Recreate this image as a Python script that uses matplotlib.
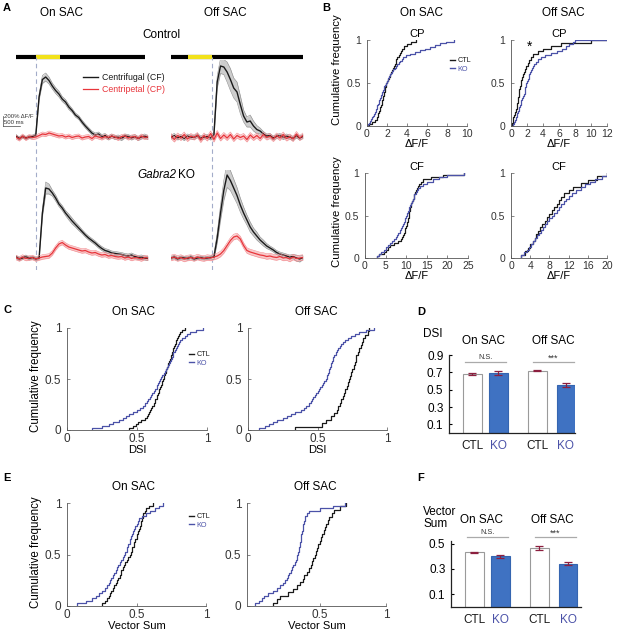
import numpy as np
import matplotlib
matplotlib.use('Agg')
import matplotlib.pyplot as plt
from matplotlib.lines import Line2D

plt.rcParams['font.family'] = ['Liberation Sans', 'DejaVu Sans']

W, H = 617, 638
fig = plt.figure(figsize=(W / 100, H / 100), dpi=100)


def box(x0, y0, x1, y1):
    # pixel box (from top-left) -> figure fraction rect
    return [x0 / W, 1 - y1 / H, (x1 - x0) / W, (y1 - y0) / H]


def fx(x):
    return x / W


def fy(y):
    return 1 - y / H


BLACK = '#1a1a1a'
BLUE = '#4b52a8'
RED = '#e8353b'
BARBLUE = '#3f72c2'
ERRRED = '#8c1f3f'

# ---------------- data: panel A traces (dF/F %, 0.1 s steps) ----------------
t = np.linspace(0, 4.0, 41)

on_ctl_cf = [20, -30, 10, -20, 0, 10, 40, 800, 1150, 1200, 1130, 1020, 930, 860, 760, 700,
             600, 530, 440, 390, 300, 220, 150, 80, 40, 60, 10, 30, -20, 20, -10, 0, -30, 20,
             10, -20, 10, -30, 0, 20, -10]
on_ctl_cf_sem = [30, 30, 30, 30, 30, 30, 30, 60, 80, 80, 70, 60, 60, 60, 50, 50, 50, 40, 40, 40,
                 40, 40, 40, 40, 40, 40, 40, 40, 40, 40, 40, 40, 40, 40, 40, 40, 40, 40, 40, 40, 40]
on_ctl_cp = [0, -40, 20, -30, 10, -10, 0, 30, 60, 50, 80, 60, 40, 20, 30, 0, 20, -10, 10, 20,
             -20, 0, 10, -30, 20, 0, -20, 10, -10, 20, 0, -30, 10, 20, -20, 0, 10, -30, 20, -10, 0]
on_ctl_cp_sem = 40

off_ctl_cf = [0, 30, -20, 10, -30, 20, 0, -10, 30, -20, 0, 10, -20, 40, 1100, 1420, 1400, 1300,
              1150, 980, 900, 650, 420, 300, 320, 220, 150, 120, 60, 20, 30, -20, 10, 30, -10, 20,
              0, -30, 20, -20, 10]
off_ctl_cf_sem = [40, 40, 40, 40, 40, 40, 40, 40, 40, 40, 40, 40, 40, 60, 120, 150, 150, 200, 220,
                  200, 200, 180, 120, 100, 120, 100, 80, 60, 50, 40, 40, 40, 40, 40, 40, 40, 40, 40,
                  40, 40, 40]
off_ctl_cp = [20, -50, 30, -20, 50, -40, 20, -10, 40, -60, 30, -30, 70, -50, 80, -30, 40, -20, 50,
              -40, 30, -10, 20, -50, 40, -20, 30, -30, 50, -10, 20, -40, 30, -20, 50, -30, 10, -40,
              60, -20, 30]
off_ctl_cp_sem = 50

on_ko_cf = [20, -20, 0, 30, -10, 10, -20, 0, 900, 1400, 1380, 1300, 1200, 1080, 1000, 900, 820,
            740, 670, 600, 530, 460, 400, 350, 300, 240, 190, 150, 130, 100, 90, 80, 70, 50, 40,
            60, 30, 10, 20, 0, -10]
on_ko_cf_sem = [30, 30, 30, 30, 30, 30, 30, 30, 80, 120, 100, 60, 60, 50, 50, 50, 60, 60, 50, 50,
                40, 40, 40, 40, 40, 40, 40, 40, 40, 40, 40, 40, 40, 40, 40, 40, 40, 40, 40, 40, 40]
on_ko_cp = [10, -20, 20, -10, 0, 10, -20, 0, 20, 30, 40, 100, 200, 280, 310, 260, 220, 200, 180,
            160, 140, 150, 120, 100, 110, 80, 60, 70, 40, 50, 30, 20, 30, 0, 20, -10, 10, 0, -20,
            10, 0]
on_ko_cp_sem = 45

off_ko_cf = [0, 20, -20, 10, 0, -10, 20, -20, 0, 10, -10, 0, 10, 20, 400, 900, 1350, 1660, 1550,
             1400, 1250, 1060, 900, 760, 620, 520, 440, 360, 300, 240, 200, 160, 110, 80, 60, 40,
             20, 30, 0, -20, 10]
off_ko_cf_sem = [30, 30, 30, 30, 30, 30, 30, 30, 30, 30, 30, 30, 30, 50, 100, 150, 200, 250, 200,
                 180, 160, 140, 120, 100, 100, 80, 80, 60, 60, 50, 40, 40, 40, 40, 40, 40, 40, 40,
                 60, 60, 40]
off_ko_cp = [0, 20, -10, 10, -20, 0, 10, -10, 20, 0, -10, 10, 0, 20, 40, 80, 150, 250, 350, 420,
             440, 380, 250, 150, 120, 100, 80, 60, 50, 30, 40, 20, 10, 30, 0, 10, -20, 20, -10, 0, 10]
off_ko_cp_sem = 55

# stimulus (light on) windows and bar length, seconds
stim_on_col = [(0.6, 1.33), (0.52, 1.24)]
stim_bar_end = [3.9, 4.0]
onset_line = [0.6, 1.24]
scale_dff = 200
scale_s = 0.5

# ---------------- data: panel B (dF/F samples) ----------------
b_on_cp_ctl = [0.2, 0.5, 0.8, 1.0, 1.05, 1.1, 1.2, 1.25, 1.3, 1.35, 1.45, 1.5, 1.55, 1.6, 1.65,
               1.7, 1.75, 1.8, 1.85, 1.9, 2.0, 2.1, 2.2, 2.3, 2.4, 2.5, 2.6, 2.7, 2.75, 2.85, 2.9,
               3.0, 3.15, 3.25, 3.35, 3.5, 3.7, 4.0, 4.4, 4.9]
b_on_cp_ko = [0.1, 0.2, 0.3, 0.4, 0.5, 0.6, 0.7, 0.8, 0.85, 0.9, 0.95, 1.0, 1.1, 1.15, 1.2, 1.3,
              1.35, 1.4, 1.45, 1.5, 1.6, 1.65, 1.7, 1.8, 1.9, 2.0, 2.05, 2.1, 2.2, 2.3, 2.4, 2.5,
              2.6, 2.8, 2.9, 3.0, 3.2, 3.3, 3.45, 3.6, 3.9, 4.3, 4.8, 5.3, 5.8, 6.3, 6.8, 7.3, 7.9, 8.7]
b_off_cp_ctl = [0.1, 0.2, 0.3, 0.4, 0.5, 0.6, 0.7, 0.8, 0.85, 0.9, 0.95, 1.0, 1.05, 1.1, 1.2, 1.3,
                1.4, 1.5, 1.6, 1.8, 1.9, 2.1, 2.3, 2.5, 2.8, 3.4, 4.0, 5.0, 6.2, 10.0]
b_off_cp_ko = [0.2, 0.4, 0.5, 0.6, 0.7, 0.8, 0.9, 1.0, 1.05, 1.1, 1.2, 1.3, 1.4, 1.5, 1.6, 1.7,
               1.75, 1.8, 1.85, 1.9, 2.0, 2.1, 2.2, 2.3, 2.4, 2.5, 2.6, 2.7, 2.9, 3.1, 3.4, 3.8,
               4.3, 5.0, 5.8, 6.4, 6.9, 7.3, 7.7, 8.0]
b_on_cf_ctl = [3.0, 3.5, 4.5, 5.0, 5.5, 6.0, 7.0, 8.0, 8.7, 9.0, 9.2, 9.4, 9.6, 9.8, 10.0, 10.1,
               10.2, 10.4, 10.5, 10.6, 10.7, 10.8, 10.9, 11.0, 11.1, 11.2, 11.4, 11.6, 11.8, 12.0,
               12.2, 12.4, 12.6, 12.8, 13.0, 13.5, 14.0, 16.0, 19.0, 24.0]
b_on_cf_ko = [3.0, 3.5, 4.0, 4.5, 5.0, 5.5, 6.0, 6.5, 7.0, 7.5, 7.8, 8.1, 8.4, 8.7, 9.0, 9.2, 9.4,
              9.6, 9.8, 10.0, 10.2, 10.4, 10.6, 10.8, 11.0, 11.2, 11.4, 11.6, 11.8, 12.0, 12.3,
              12.6, 12.9, 13.3, 14.0, 15.0, 16.5, 18.0, 20.0, 24.0]
b_off_cf_ctl = [2.0, 3.0, 3.5, 4.0, 4.5, 5.0, 5.3, 5.6, 6.0, 6.5, 7.0, 7.5, 8.0, 8.5, 9.0, 9.5,
                10.0, 10.5, 11.0, 12.0, 13.0, 14.5, 16.0, 18.0, 20.0]
b_off_cf_ko = [2.0, 2.8, 3.3, 3.8, 4.2, 4.6, 5.0, 5.4, 5.8, 6.2, 6.6, 7.0, 7.5, 8.0, 8.5, 9.0,
               9.5, 10.0, 10.5, 11.0, 11.5, 12.0, 12.7, 13.5, 14.5, 15.5, 16.5, 17.5, 19.0, 20.0]

# ---------------- data: panel C (DSI samples) ----------------
c_on_ctl = [0.44, 0.47, 0.49, 0.51, 0.53, 0.56, 0.57, 0.58, 0.585, 0.59, 0.60, 0.61, 0.62, 0.625,
            0.63, 0.64, 0.645, 0.65, 0.655, 0.66, 0.665, 0.67, 0.675, 0.68, 0.685, 0.69, 0.695,
            0.70, 0.705, 0.71, 0.715, 0.72, 0.725, 0.73, 0.735, 0.74, 0.745, 0.75, 0.755, 0.76,
            0.765, 0.77, 0.775, 0.78, 0.785, 0.79, 0.80, 0.81, 0.82, 0.84]
c_on_ko = [0.18, 0.25, 0.30, 0.33, 0.37, 0.40, 0.42, 0.44, 0.47, 0.50, 0.52, 0.54, 0.56, 0.57,
           0.58, 0.59, 0.60, 0.61, 0.62, 0.63, 0.64, 0.645, 0.65, 0.66, 0.665, 0.67, 0.68, 0.69,
           0.70, 0.71, 0.715, 0.72, 0.73, 0.735, 0.74, 0.75, 0.755, 0.76, 0.77, 0.78, 0.785, 0.79,
           0.80, 0.81, 0.82, 0.84, 0.86, 0.88, 0.92, 0.97]
c_off_ctl = [0.34, 0.53, 0.56, 0.60, 0.62, 0.64, 0.65, 0.66, 0.67, 0.68, 0.69, 0.70, 0.71, 0.72,
             0.73, 0.735, 0.74, 0.75, 0.76, 0.77, 0.775, 0.78, 0.79, 0.80, 0.81, 0.82, 0.83, 0.84,
             0.86, 0.87]
c_off_ko = [0.08, 0.12, 0.15, 0.18, 0.21, 0.25, 0.28, 0.31, 0.34, 0.38, 0.40, 0.42, 0.44, 0.45,
            0.46, 0.47, 0.48, 0.49, 0.50, 0.51, 0.52, 0.53, 0.54, 0.55, 0.56, 0.565, 0.57, 0.575,
            0.58, 0.585, 0.59, 0.595, 0.60, 0.605, 0.61, 0.615, 0.62, 0.63, 0.64, 0.65, 0.66, 0.67,
            0.68, 0.70, 0.72, 0.74, 0.77, 0.80, 0.85, 0.91]

# ---------------- data: panel E (vector sum samples) ----------------
e_on_ctl = [0.25, 0.27, 0.29, 0.30, 0.31, 0.32, 0.33, 0.34, 0.35, 0.36, 0.37, 0.38, 0.385, 0.39,
            0.40, 0.41, 0.42, 0.43, 0.44, 0.45, 0.46, 0.465, 0.47, 0.48, 0.485, 0.49, 0.50, 0.505,
            0.51, 0.52, 0.525, 0.53, 0.535, 0.54, 0.545, 0.55, 0.56, 0.57, 0.59, 0.62]
e_on_ko = [0.07, 0.14, 0.18, 0.21, 0.23, 0.25, 0.27, 0.29, 0.30, 0.31, 0.32, 0.33, 0.34, 0.35,
           0.36, 0.37, 0.38, 0.39, 0.40, 0.41, 0.42, 0.43, 0.435, 0.44, 0.45, 0.455, 0.46, 0.47,
           0.475, 0.48, 0.49, 0.50, 0.51, 0.52, 0.54, 0.57, 0.60, 0.63, 0.66, 0.69]
e_off_ctl = [0.15, 0.18, 0.20, 0.26, 0.30, 0.33, 0.35, 0.37, 0.38, 0.40, 0.42, 0.43, 0.44, 0.45,
             0.46, 0.47, 0.48, 0.49, 0.50, 0.51, 0.52, 0.53, 0.54, 0.55, 0.56, 0.57, 0.59, 0.61,
             0.65, 0.70]
e_off_ko = [0.01, 0.04, 0.06, 0.08, 0.11, 0.15, 0.18, 0.20, 0.22, 0.24, 0.25, 0.26, 0.27, 0.28,
            0.29, 0.30, 0.31, 0.32, 0.325, 0.33, 0.335, 0.34, 0.345, 0.35, 0.35, 0.355, 0.36, 0.36,
            0.365, 0.37, 0.37, 0.375, 0.38, 0.385, 0.39, 0.40, 0.42, 0.50, 0.60, 0.69]

# ---------------- data: panels D and F (mean +- sem) ----------------
bar_labels = ['CTL', 'KO', 'CTL', 'KO']
dsi_mean = [0.68, 0.69, 0.72, 0.555]
dsi_sem = [0.01, 0.02, 0.01, 0.02]
vs_mean = [0.43, 0.40, 0.465, 0.34]
vs_sem = [0.006, 0.01, 0.018, 0.012]


# ======================= panel A =======================
def trace_axes(rect, ylim, cf, cf_sem, cp, cp_sem):
    ax = fig.add_axes(rect)
    ax.patch.set_alpha(0)
    cf = np.array(cf, float)
    cp = np.array(cp, float)
    lo, hi = cf - np.array(cf_sem), cf + np.array(cf_sem)
    ax.fill_between(t, lo, hi, color='#cdcdcd', lw=0)
    ax.plot(t, lo, color='#8a8a8a', lw=0.4)
    ax.plot(t, hi, color='#8a8a8a', lw=0.4)
    ax.plot(t, cf, color=BLACK, lw=1.0, label='Centrifugal (CF)')
    ax.fill_between(t, cp - cp_sem, cp + cp_sem, color='#f8c2c4', lw=0, alpha=0.9)
    ax.plot(t, cp - cp_sem, color='#f28a8e', lw=0.4)
    ax.plot(t, cp + cp_sem, color='#f28a8e', lw=0.4)
    ax.plot(t, cp, color=RED, lw=0.9, label='Centripetal (CP)')
    ax.set_xlim(0, 4.0)
    ax.set_ylim(ylim)
    ax.axis('off')
    return ax


for i, x0 in enumerate([16, 171]):
    col = fig.add_axes(box(x0, 50, x0 + 132, 270))
    col.set_xlim(0, 4.0)
    col.set_ylim(0, 1)
    col.axis('off')
    col.plot([0, stim_bar_end[i]], [0.968, 0.968], color='k', lw=3.0, solid_capstyle='butt')
    col.plot(stim_on_col[i], [0.968, 0.968], color='#f2e21b', lw=3.0, solid_capstyle='butt')
    col.plot([onset_line[i]] * 2, [0.0, 0.968], color='#a3acc9', lw=0.8, dashes=(4, 3))

ax_a1 = trace_axes(box(16, 60, 148, 145), (-160, 1540), on_ctl_cf, on_ctl_cf_sem, on_ctl_cp, on_ctl_cp_sem)
trace_axes(box(171, 60, 303, 145), (-160, 1540), off_ctl_cf, off_ctl_cf_sem, off_ctl_cp, off_ctl_cp_sem)
trace_axes(box(16, 170, 148, 268), (-200, 1760), on_ko_cf, on_ko_cf_sem, on_ko_cp, on_ko_cp_sem)
trace_axes(box(171, 170, 303, 268), (-200, 1760), off_ko_cf, off_ko_cf_sem, off_ko_cp, off_ko_cp_sem)

# scale bar
ax_a1.plot([-0.38, -0.38], [220, 220 + scale_dff], color='#444', lw=0.5, clip_on=False)
ax_a1.plot([-0.38, -0.38 + scale_s], [220, 220], color='#444', lw=0.5, clip_on=False)
fig.text(fx(4.5), fy(116), '200% \u0394F/F', fontsize=4.3, color='#333', va='center')
fig.text(fx(4.5), fy(123), '500 ms', fontsize=4.3, color='#333', va='center')

ax_a1.legend(loc='upper left', bbox_to_anchor=(fx(83), fy(73)), bbox_transform=fig.transFigure,
             frameon=False, fontsize=6.3, handlelength=1.7, handletextpad=0.5, labelspacing=0.35,
             labelcolor=[BLACK, RED], borderpad=0, borderaxespad=0)

fig.text(fx(3), fy(8), 'A', fontsize=8, fontweight='bold', va='center')
fig.text(fx(62), fy(13), 'On SAC', fontsize=8.5, ha='center', va='center')
fig.text(fx(225), fy(13), 'Off SAC', fontsize=8.5, ha='center', va='center')
fig.text(fx(161), fy(35), 'Control', fontsize=8.5, ha='center', va='center')
fig.text(fx(176), fy(175), 'Gabra2', fontsize=8.5, ha='right', va='center', style='italic')
fig.text(fx(178), fy(175), 'KO', fontsize=8.5, ha='left', va='center')


# ======================= CDF panels =======================
def ecdf(ax, vals, color, extend=None):
    v = np.sort(np.asarray(vals, float))
    n = len(v)
    xs = np.concatenate([[v[0]], v])
    ys = np.concatenate([[0.0], np.arange(1, n + 1) / n])
    if extend is not None:
        xs = np.append(xs, extend)
        ys = np.append(ys, 1.0)
    ax.step(xs, ys, where='post', color=color, lw=0.9)


def cdf_axes(rect, xlim, xticks, xticklabels, ctl, ko, title=None, xlabel=None,
             extend=None, xfs=8):
    ax = fig.add_axes(rect)
    ecdf(ax, ctl, BLACK, extend)
    ecdf(ax, ko, BLUE, extend)
    ax.set_xlim(xlim)
    ax.set_ylim(0, 1)
    ax.set_xticks(xticks)
    ax.set_xticklabels(xticklabels)
    ax.set_yticks([0, 0.5, 1])
    ax.set_yticklabels(['0', '0.5', '1'])
    for s in ['top', 'right']:
        ax.spines[s].set_visible(False)
    for s in ['left', 'bottom']:
        ax.spines[s].set_linewidth(0.6)
        ax.spines[s].set_color('#555')
    ax.tick_params(direction='in', length=2, width=0.5, labelsize=xfs, pad=2, colors='#555',
                   labelcolor='#333')
    ax.tick_params(axis='y', pad=4)
    if title:
        ax.set_title(title, fontsize=8, pad=2)
    if xlabel:
        ax.set_xlabel(xlabel, fontsize=8, labelpad=0)
    return ax


def mini_legend(ax, xp, yp):
    hs = [Line2D([], [], color=BLACK, lw=1.0), Line2D([], [], color=BLUE, lw=1.0)]
    ax.legend(hs, ['CTL', 'KO'], loc='upper left', bbox_to_anchor=(fx(xp), fy(yp)),
              bbox_transform=fig.transFigure, frameon=False, fontsize=5.2, handlelength=0.7,
              handletextpad=0.3, labelspacing=0.25, labelcolor=[BLACK, BLUE], borderpad=0,
              borderaxespad=0)


# panel B
dff = '\u0394F/F'
axb1 = cdf_axes(box(367, 40, 467, 126), (0, 10), [0, 2, 4, 6, 8, 10], ['0', '2', '4', '6', '8', '10'],
                b_on_cp_ctl, b_on_cp_ko, title='CP', xlabel=dff, xfs=7.5)
mini_legend(axb1, 450, 57)
axb2 = cdf_axes(box(511, 40, 607, 126), (0, 12), [0, 2, 4, 6, 8, 10, 12],
                ['0', '2', '4', '6', '8', '10', '12'], b_off_cp_ctl, b_off_cp_ko, title='CP',
                xlabel=dff, extend=12, xfs=7.5)
axb2.text(2.3, 0.92, '*', fontsize=10, ha='center', va='center')
cdf_axes(box(365, 173, 468, 258), (0, 25), [0, 5, 10, 15, 20, 25], ['0', '5', '10', '15', '20', '25'],
         b_on_cf_ctl, b_on_cf_ko, title='CF', xlabel=dff, xfs=7.5)
cdf_axes(box(511, 173, 607, 258), (0, 20), [0, 4, 8, 12, 16, 20], ['0', '4', '8', '12', '16', '20'],
         b_off_cf_ctl, b_off_cf_ko, title='CF', xlabel=dff, xfs=7.5)
fig.text(fx(337), fy(70), 'Cumulative frequency', fontsize=8.2, rotation=90, ha='center', va='center')
fig.text(fx(337), fy(212), 'Cumulative frequency', fontsize=8.2, rotation=90, ha='center', va='center')
fig.text(fx(322), fy(8), 'B', fontsize=8, fontweight='bold', va='center')
fig.text(fx(422), fy(13), 'On SAC', fontsize=8.5, ha='center', va='center')
fig.text(fx(563), fy(13), 'Off SAC', fontsize=8.5, ha='center', va='center')

# panel C
axc1 = cdf_axes(box(67, 328, 207, 430), (0, 1), [0, 0.5, 1], ['0', '0.5', '1'], c_on_ctl, c_on_ko,
                xlabel='DSI', xfs=8.5)
mini_legend(axc1, 189, 351)
cdf_axes(box(248, 328, 387, 430), (0, 1), [0, 0.5, 1], ['0', '0.5', '1'], c_off_ctl, c_off_ko,
         xlabel='DSI', xfs=8.5)
fig.text(fx(36), fy(376), 'Cumulative frequency', fontsize=8.3, rotation=90, ha='center', va='center')
fig.text(fx(3), fy(310), 'C', fontsize=8, fontweight='bold', va='center')
fig.text(fx(134), fy(312), 'On SAC', fontsize=8.5, ha='center', va='center')
fig.text(fx(316), fy(312), 'Off SAC', fontsize=8.5, ha='center', va='center')

# panel E
axe1 = cdf_axes(box(67, 503, 206, 606), (0, 1), [0, 0.5, 1], ['0', '0.5', '1'], e_on_ctl, e_on_ko,
                xlabel='Vector Sum', xfs=8.5)
mini_legend(axe1, 189, 513)
cdf_axes(box(247, 503, 386, 606), (-0.05, 1), [0.5, 1], ['0.5', '1'], e_off_ctl, e_off_ko,
         xlabel='Vector Sum', xfs=8.5)
fig.text(fx(36), fy(552), 'Cumulative frequency', fontsize=8.3, rotation=90, ha='center', va='center')
fig.text(fx(3), fy(478), 'E', fontsize=8, fontweight='bold', va='center')
fig.text(fx(134), fy(487), 'On SAC', fontsize=8.5, ha='center', va='center')
fig.text(fx(315), fy(487), 'Off SAC', fontsize=8.5, ha='center', va='center')


# ======================= bar panels D and F =======================
def bar_axes(rect, xlim, ylim, yticks, means, sems, sig_y, text_y):
    ax = fig.add_axes(rect)
    pos = [0.9, 1.9, 3.4, 4.5]
    faces = ['white', BARBLUE, 'white', BARBLUE]
    edges = ['#9a9a9a', '#3565b0', '#9a9a9a', '#3565b0']
    ax.bar(pos, means, width=0.72, color=faces, edgecolor=edges, linewidth=0.8)
    ax.errorbar(pos, means, yerr=sems, fmt='none', ecolor=ERRRED, elinewidth=0.9, capsize=3,
                capthick=0.9)
    ax.set_xlim(xlim)
    ax.set_ylim(ylim)
    ax.set_yticks(yticks)
    ax.set_yticklabels([f'{v:.1f}' for v in yticks])
    ax.set_xticks(pos)
    ax.set_xticklabels(bar_labels)
    for lbl, c in zip(ax.get_xticklabels(), [BLACK, BLUE, BLACK, BLUE]):
        lbl.set_color(c)
    for s in ['top', 'right']:
        ax.spines[s].set_visible(False)
    for s in ['left', 'bottom']:
        ax.spines[s].set_linewidth(0.9)
        ax.spines[s].set_color('#222')
    ax.tick_params(axis='x', length=0, labelsize=8.5, pad=5)
    ax.tick_params(axis='y', direction='in', length=2, labelsize=8.5, pad=4)
    ax.plot([0.62, 2.2], [sig_y, sig_y], color='#aaaaaa', lw=0.9, clip_on=False)
    ax.plot([3.23, 4.8], [sig_y, sig_y], color='#aaaaaa', lw=0.9, clip_on=False)
    ax.text(1.41, text_y, 'N.S.', fontsize=5.3, ha='center', va='center', color='#333')
    ax.text(4.0, text_y - 0.01, '***', fontsize=6.5, ha='center', va='center', color='#333')
    return ax


bar_axes(box(449, 355, 575, 433), (0, 4.85), (0, 0.9), [0.1, 0.3, 0.5, 0.7, 0.9],
         dsi_mean, dsi_sem, 0.82, 0.87)
fig.text(fx(417), fy(312), 'D', fontsize=8, fontweight='bold', va='center')
fig.text(fx(433), fy(334), 'DSI', fontsize=8.5, ha='center', va='center')
fig.text(fx(483), fy(341), 'On SAC', fontsize=8.5, ha='center', va='center')
fig.text(fx(553), fy(341), 'Off SAC', fontsize=8.5, ha='center', va='center')

bar_axes(box(451, 541, 581, 607), (0, 5.0), (0, 0.52), [0.1, 0.3, 0.5],
         vs_mean, vs_sem, 0.55, 0.59)
fig.text(fx(417), fy(478), 'F', fontsize=8, fontweight='bold', va='center')
fig.text(fx(423), fy(512), 'Vector', fontsize=8.5, ha='left', va='center')
fig.text(fx(423), fy(524), 'Sum', fontsize=8.5, ha='left', va='center')
fig.text(fx(482), fy(520), 'On SAC', fontsize=8.5, ha='center', va='center')
fig.text(fx(552), fy(520), 'Off SAC', fontsize=8.5, ha='center', va='center')

fig.savefig('out.png', dpi=100)
